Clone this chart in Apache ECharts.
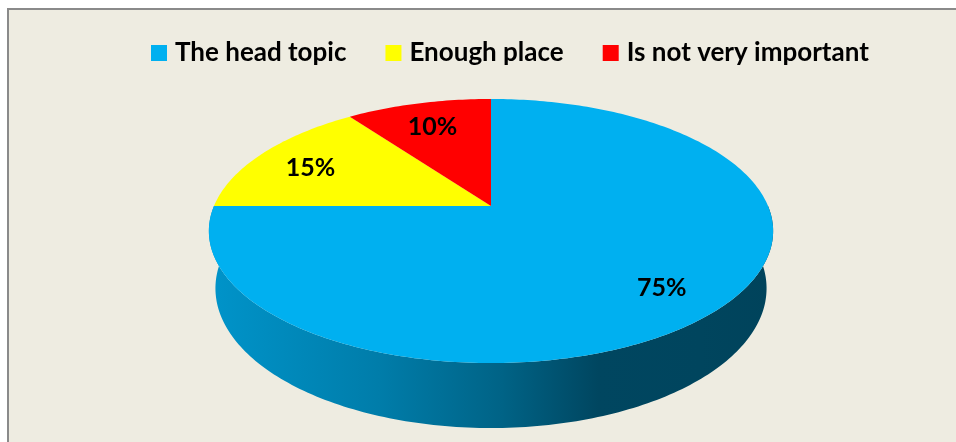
<!DOCTYPE html>
<html>
<head>
<meta charset="utf-8">
<script src="https://cdn.jsdelivr.net/npm/echarts@6/dist/echarts.min.js"></script>
<style>
  html, body { margin: 0; padding: 0; background: #ffffff; }
  #chart { width: 956px; height: 442px; }
</style>
</head>
<body>
<div id="chart"></div>
<script>
// Survey answers and their shares (percent)
const categories = ['The head topic', 'Enough place', 'Is not very important'];
const shares = [75, 15, 10];
const sliceColors = ['#00B0F0', '#FFFF00', '#FF0000'];

// Perspective camera for the tilted pie disc (unit radius, top face at h = 0)
const view = {
  cx: 491, cy: 206,          // screen position of the disc centre
  focal: 1299,
  dist: 4.689,
  tilt: 27.36 * Math.PI / 180,
  depth: 0.2347              // thickness of the disc
};
const labelRadius = 0.78;
const labelDrop = 4;
const FONT = 'Lato, "Open Sans", sans-serif';

function project(theta, r, h) {
  const u = r * Math.sin(theta), v = r * Math.cos(theta);
  const sa = Math.sin(view.tilt), ca = Math.cos(view.tilt);
  const zc = view.dist - h * sa + v * ca;
  const yc = h * ca + v * sa;
  return [view.cx + view.focal * u / zc, view.cy - view.focal * yc / zc];
}

function arc(a0, a1, h) {
  const pts = [];
  const n = Math.max(2, Math.ceil(Math.abs(a1 - a0) / (Math.PI / 180)));
  for (let i = 0; i <= n; i++) pts.push(project(a0 + (a1 - a0) * i / n, 1, h));
  return pts;
}

function shade(hex, f) {
  const n = parseInt(hex.slice(1), 16);
  const c = [(n >> 16) & 255, (n >> 8) & 255, n & 255].map(x => Math.round(x * f));
  return 'rgb(' + c.join(',') + ')';
}

const total = shares.reduce((a, b) => a + b, 0);
const starts = shares.map((_, i) => shares.slice(0, i).reduce((a, b) => a + b, 0));

function renderSlice(idx) {
  return function (params, api) {
    const a0 = starts[idx] / total * Math.PI * 2;
    const a1 = (starts[idx] + shares[idx]) / total * Math.PI * 2;
    const color = sliceColors[idx];
    const children = [];

    // side wall: only the part of the rim facing the viewer (front half)
    const w0 = Math.max(a0, Math.PI / 2), w1 = Math.min(a1, Math.PI * 1.5);
    if (w1 > w0) {
      const top = arc(w0, w1, 0);
      const bottom = arc(w1, w0, -view.depth);
      const xL = view.cx - view.focal / view.dist * 1.02;
      const xR = view.cx + view.focal / view.dist * 1.02;
      children.push({
        type: 'polygon',
        z2: 1,
        shape: { points: top.concat(bottom) },
        style: {
          fill: new echarts.graphic.LinearGradient(xL, 0, xR, 0, [
            { offset: 0, color: shade(color, 0.84) },
            { offset: 0.3, color: shade(color, 0.71) },
            { offset: 0.52, color: shade(color, 0.56) },
            { offset: 0.69, color: shade(color, 0.40) },
            { offset: 0.87, color: shade(color, 0.39) },
            { offset: 1, color: shade(color, 0.38) }
          ], true)
        }
      });
    }

    // top face
    const face = [project(0, 0, 0)].concat(arc(a0, a1, 0));
    children.push({
      type: 'polygon',
      z2: 5,
      shape: { points: face },
      style: { fill: color }
    });

    // percentage label
    const mid = (a0 + a1) / 2;
    const p = project(mid, labelRadius, 0);
    children.push({
      type: 'text',
      z2: 10,
      x: p[0], y: p[1] + labelDrop,
      style: {
        text: Math.round(shares[idx] / total * 100) + '%',
        fill: '#000000',
        font: 'bold 25px ' + FONT,
        align: 'center',
        verticalAlign: 'middle'
      }
    });

    return { type: 'group', children: children };
  };
}

const chart = echarts.init(document.getElementById('chart'), null, { renderer: 'canvas' });
chart.setOption({
  animation: false,
  backgroundColor: '#ffffff',
  color: sliceColors,
  graphic: [{
    type: 'rect',
    z: -10,
    shape: { x: 8, y: 9, width: 1000, height: 500 },
    style: { fill: '#EEECE1', stroke: '#8A8A8A', lineWidth: 2 }
  }],
  legend: {
    data: categories,
    left: 146,
    top: 35,
    icon: 'rect',
    itemWidth: 16,
    itemHeight: 16,
    itemGap: 39,
    textStyle: {
      fontFamily: FONT,
      fontWeight: 'bold',
      fontSize: 26,
      color: '#000000',
      padding: [0, 0, 0, 3]
    }
  },
  series: categories.map((name, i) => ({
    type: 'custom',
    name: name,
    coordinateSystem: 'none',
    itemStyle: { color: sliceColors[i] },
    renderItem: renderSlice(i),
    data: [[shares[i]]]
  }))
});
</script>
</body>
</html>
